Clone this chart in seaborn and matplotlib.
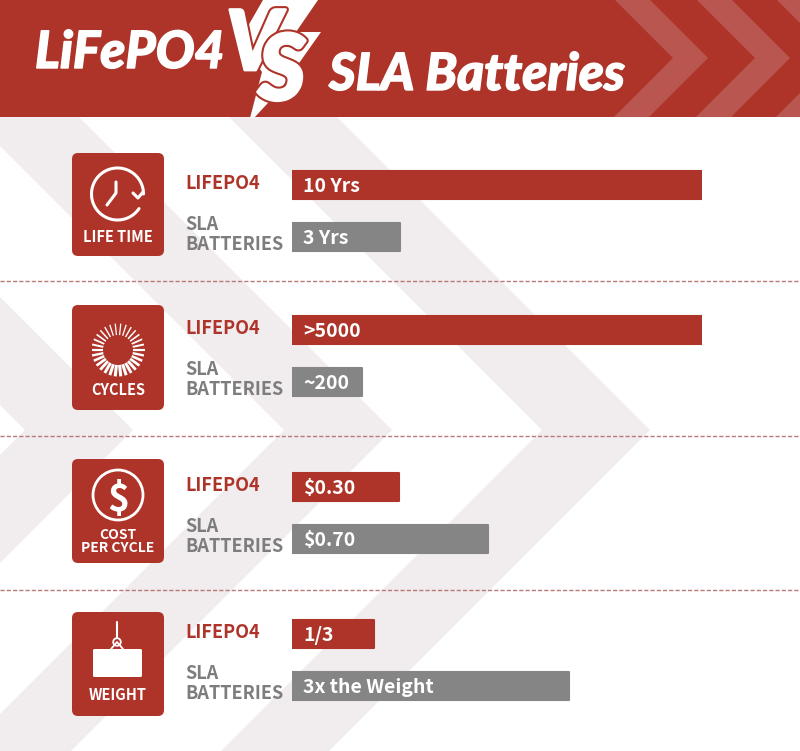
import numpy as np
import pandas as pd
import seaborn as sns
import matplotlib.pyplot as plt
import matplotlib.patheffects as pe
from matplotlib.patches import FancyBboxPatch, Polygon, Rectangle, Circle

RED = '#ae3429'
GREY = '#858585'
LABEL_GREY = '#7d7d7d'
PALE = '#f1ecee'
BODY = ['Noto Sans CJK SC', 'DejaVu Sans']
HEAD = ['Lato', 'DejaVu Sans']

# Bar lengths, as percent of the longest bar
batteries = ['LIFEPO4', 'SLA BATTERIES']
life_time = [100, 26.3]
cycles = [100, 17.1]
cost_per_cycle = [26.2, 47.8]
weight = [20, 67.6]

life_time_labels = ['10 Yrs', '3 Yrs']
cycles_labels = ['>5000', '~200']
cost_labels = ['$0.30', '$0.70']
weight_labels = ['1/3', '3x the Weight']

panel_values = [life_time, cycles, cost_per_cycle, weight]
panel_labels = [life_time_labels, cycles_labels, cost_labels, weight_labels]

# Layout, in pixels from the top left
bar_tops = [159, 304, 461, 608]
icon_boxes = [(153, 256), (305, 410), (459, 563), (612, 716)]
dash_rows = [281, 436, 590]

sns.set_theme(style='white')
plt.rcParams['font.family'] = BODY

fig = plt.figure(figsize=(8, 7.51), dpi=100)
bg = fig.add_axes([0, 0, 1, 1])
bg.set_xlim(0, 800)
bg.set_ylim(751, 0)
bg.axis('off')


def chevron(ax, inner, outer, tip_y, color, zorder=1, span=340):
    pts = [(inner - span, tip_y - span), (outer - span, tip_y - span),
           (outer, tip_y), (outer - span, tip_y + span),
           (inner - span, tip_y + span), (inner, tip_y)]
    ax.add_patch(Polygon(pts, closed=True, fc=color, ec='none', zorder=zorder))


# Pale chevrons behind the rows
for inner, outer in [(25, 133), (284, 392), (542, 650)]:
    chevron(bg, inner, outer, 430, PALE)

# Header band
bg.add_patch(Rectangle((0, 0), 800, 117, fc=RED, ec='none', zorder=2))
head_clip = Rectangle((0, 0), 800, 117, transform=bg.transData)
for inner, outer in [(673, 708), (755, 790), (835, 870)]:
    pts = [(inner - 58, 0), (outer - 58, 0), (outer, 58), (outer - 59, 117), (inner - 59, 117), (inner, 58)]
    p = Polygon(pts, closed=True, fc='#b95650', ec='none', zorder=3)
    bg.add_patch(p)
    p.set_clip_path(head_clip)

# Lightning bolt
bolt = [(263, 0), (318, 0), (296, 32), (321, 32), (280, 90), (254, 118), (250, 118), (262, 72), (240, 40)]
bg.add_patch(Polygon(bolt, closed=True, fc='white', ec='none', zorder=4))

heavy = [pe.withStroke(linewidth=1, foreground='white')]
bg.text(35, 68, 'LiFePO4', color='white', fontsize=37, fontweight='black', style='italic', family=HEAD, zorder=6,
        path_effects=heavy)
bg.text(329, 90, 'SLA Batteries', color='white', fontsize=37, fontweight='black', style='italic', family=HEAD, zorder=6,
        path_effects=heavy)
outline = [pe.withStroke(linewidth=5, foreground=RED), pe.withStroke(linewidth=2, foreground='white')]
bg.text(226, 70, 'V', color='white', fontsize=60, fontweight='black', style='italic', family=HEAD, zorder=7,
        path_effects=outline)
bg.text(258, 100, 'S', color='white', fontsize=66, fontweight='black', style='italic', family=HEAD, zorder=8,
        path_effects=outline)

# Dashed separators
for y in dash_rows:
    bg.plot([0, 800], [y, y], color='#b97a76', lw=1, ls=(0, (3, 1.5)), zorder=5)

# Icon boxes
for top, bottom in icon_boxes:
    bg.add_patch(FancyBboxPatch((77, top + 5), 82, bottom - top - 10, boxstyle='round,pad=5,rounding_size=6',
                                fc=RED, ec='none', zorder=5))

icon_text = [(242, 'LIFE TIME', 10.5), (395, 'CYCLES', 10.5), (539, 'COST', 10), (552, 'PER CYCLE', 10), (700, 'WEIGHT', 10.5)]
for y, s, size in icon_text:
    bg.text(118, y, s, color='white', fontsize=size, fontweight='bold', ha='center', zorder=6)

# Clock
t = np.radians(np.linspace(0, 326, 120))
bg.plot(117.5 + 26 * np.cos(t), 194 - 26 * np.sin(t), color='white', lw=2.2, zorder=6)
bg.plot([116, 116, 107], [182, 193, 205], color='white', lw=2.2, zorder=6, solid_capstyle='round')
bg.plot([133, 138, 143], [193, 198, 192], color='white', lw=2.2, zorder=6)

# Cycles ring
for a in np.arange(0, 360, 12):
    r = np.radians(a)
    thick = (1 - np.sin(r)) / 2
    bg.plot([118 + 15 * np.cos(r), 118 + 26.5 * np.cos(r)], [350 - 15 * np.sin(r), 350 - 26.5 * np.sin(r)],
            color='white', lw=0.9 + 1.3 * thick, zorder=6, solid_capstyle='butt')

# Dollar
bg.add_patch(Circle((118, 495), 25, fc='none', ec='white', lw=2, zorder=6))
bg.text(118, 495, '$', color='white', fontsize=27, fontweight='bold', ha='center', va='center_baseline', zorder=6)

# Weight
bg.plot([117, 117], [622, 638], color='white', lw=1.5, zorder=6)
bg.add_patch(Circle((117, 642), 3.8, fc='none', ec='white', lw=1.3, zorder=6))
bg.plot([111, 117, 123], [649, 642, 649], color='white', lw=1.3, zorder=6)
bg.add_patch(FancyBboxPatch((94, 650), 47, 26, boxstyle='round,pad=1,rounding_size=1.5', fc='white', ec='none', zorder=6))

# Bars, one small axes per row
for top, values, labels in zip(bar_tops, panel_values, panel_labels):
    ax = fig.add_axes([292 / 800, 1 - (top + 104) / 751, 410 / 800, 104 / 751])
    df = pd.DataFrame({'battery': batteries, 'value': values})
    sns.barplot(data=df, x='value', y='battery', hue='battery', palette=[RED, GREY], legend=False,
                orient='h', width=0.55, saturation=1, ax=ax)
    ax.set_xlim(0, 100)
    ax.set_ylim(1.5, -0.5)
    ax.axis('off')
    ax.patch.set_alpha(0)
    for bar in ax.patches:
        bar.set_edgecolor(bar.get_facecolor())
        bar.set_linewidth(1.5)
        bar.set_joinstyle('round')
    for i, s in enumerate(labels):
        ax.annotate(s, (0, i), xytext=(11, -7), textcoords='offset pixels', color='white', fontsize=14,
                    fontweight='bold', va='baseline')

    # Row names sit to the left of the bars
    c = top + 26
    bg.text(185, c + 4, 'LIFEPO4', color=RED, fontsize=13, fontweight='bold', zorder=6)
    bg.text(185, c + 45, 'SLA', color=LABEL_GREY, fontsize=13, fontweight='bold', zorder=6)
    bg.text(185, c + 65, 'BATTERIES', color=LABEL_GREY, fontsize=13, fontweight='bold', zorder=6)

plt.savefig('out.png', dpi=100)
